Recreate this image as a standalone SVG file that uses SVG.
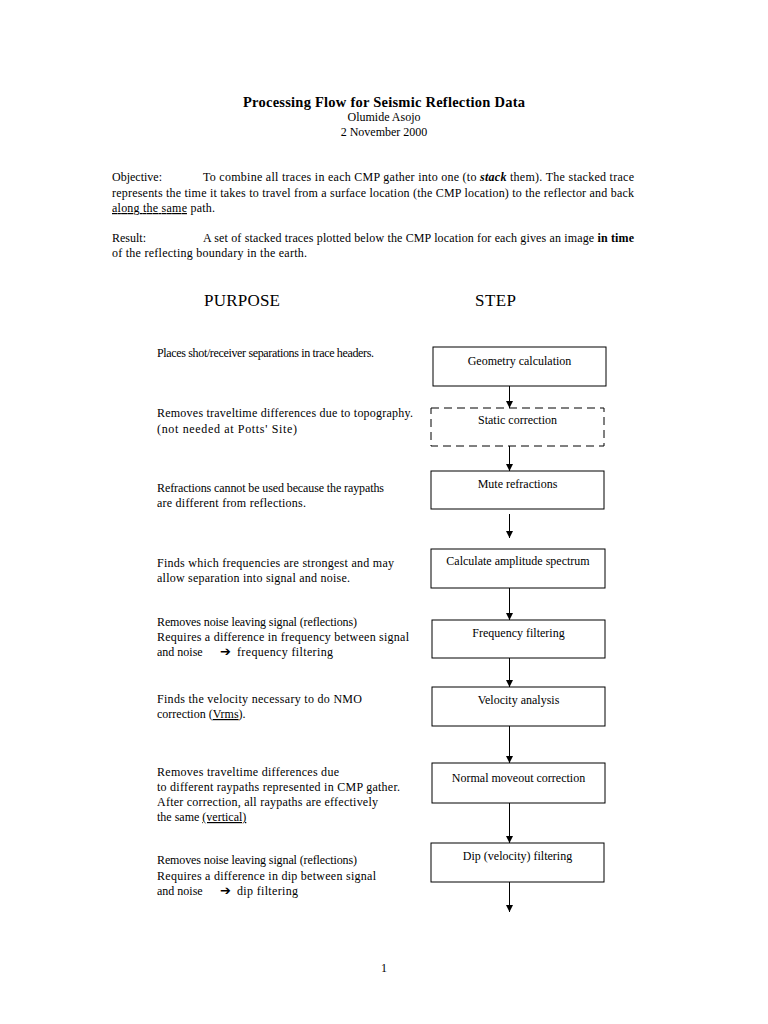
<svg xmlns="http://www.w3.org/2000/svg" width="768" height="1024" viewBox="0 0 768 1024">
<style>
text{font-family:"Liberation Serif","Times New Roman",serif;fill:#000}
.t{font-size:12px}
.b{font-size:12px}
.h{font-size:17px}
.title{font-size:14.5px;font-weight:bold}
.box{fill:#fff;stroke:#000;stroke-width:1}
.dash{stroke-dasharray:8,5}
.c{text-anchor:middle}
.u{text-decoration:underline}
.arr{font-family:"DejaVu Sans",sans-serif;font-size:13px}
#connectors line{stroke:#000;stroke-width:1}
</style>
<defs>
<marker id="ah" markerWidth="8" markerHeight="8" refX="7" refY="4" orient="auto" markerUnits="userSpaceOnUse">
<path d="M0,0.5 L7,4 L0,7.5 Z" fill="#000"/>
</marker>
</defs>
<rect width="768" height="1024" fill="#fff"/>

<g id="header">
<text class="title c" x="384" y="107" textLength="282">Processing Flow for Seismic Reflection Data</text>
<text class="t c" x="384" y="121">Olumide Asojo</text>
<text class="t c" x="384" y="136">2 November 2000</text>
<text class="t" x="112" y="181">Objective:</text>
<text class="t" x="203" y="181" textLength="431">To combine all traces in each CMP gather into one (to <tspan font-weight="bold" font-style="italic">stack</tspan> them). The stacked trace</text>
<text class="t" x="112" y="197" textLength="522">represents the time it takes to travel from a surface location (the CMP location) to the reflector and back</text>
<text class="t" x="112" y="212" textLength="103"><tspan class="u">along the same</tspan> path.</text>
<text class="t" x="112" y="242">Result:</text>
<text class="t" x="203" y="242" textLength="431">A set of stacked traces plotted below the CMP location for each gives an image <tspan font-weight="bold">in time</tspan></text>
<text class="t" x="112" y="257" textLength="195">of the reflecting boundary in the earth.</text>
<text class="h" x="204" y="306" textLength="76">PURPOSE</text>
<text class="h" x="475" y="306" textLength="41">STEP</text>
</g>

<g id="purposes">
<text class="t" x="157" y="357" textLength="217">Places shot/receiver separations in trace headers.</text>
<text class="t" x="157" y="417" textLength="256">Removes traveltime differences due to topography.</text>
<text class="t" x="157" y="433" textLength="140">(not needed at Potts' Site)</text>
<text class="t" x="157" y="492" textLength="227">Refractions cannot be used because the raypaths</text>
<text class="t" x="157" y="507" textLength="149">are different from reflections.</text>
<text class="t" x="157" y="567" textLength="237">Finds which frequencies are strongest and may</text>
<text class="t" x="157" y="582" textLength="193">allow separation into signal and noise.</text>
<text class="t" x="157" y="626" textLength="200">Removes noise leaving signal (reflections)</text>
<text class="t" x="157" y="641" textLength="252">Requires a difference in frequency between signal</text>
<text class="t" x="157" y="656">and noise</text>
<text class="arr" x="220" y="656">➔</text>
<text class="t" x="237" y="656" textLength="96">frequency filtering</text>
<text class="t" x="157" y="703" textLength="205">Finds the velocity necessary to do NMO</text>
<text class="t" x="157" y="718">correction (<tspan class="u">Vrms</tspan>).</text>
<text class="t" x="157" y="776" textLength="182">Removes traveltime differences due</text>
<text class="t" x="157" y="791" textLength="243">to different raypaths represented in CMP gather.</text>
<text class="t" x="157" y="806" textLength="221">After correction, all raypaths are effectively</text>
<text class="t" x="157" y="821">the same <tspan class="u">(vertical)</tspan></text>
<text class="t" x="157" y="864" textLength="200">Removes noise leaving signal (reflections)</text>
<text class="t" x="157" y="880" textLength="219">Requires a difference in dip between signal</text>
<text class="t" x="157" y="895">and noise</text>
<text class="arr" x="220" y="895">➔</text>
<text class="t" x="237" y="895" textLength="61">dip filtering</text>
</g>

<g id="n-geometry">
<rect class="box" x="433" y="347" width="173" height="39"/>
<text class="b c" x="519.5" y="365">Geometry calculation</text>
</g>
<g id="n-static">
<rect class="box dash" x="431" y="408" width="173" height="38"/>
<text class="b c" x="517.5" y="424">Static correction</text>
</g>
<g id="n-mute">
<rect class="box" x="431" y="471" width="173" height="38"/>
<text class="b c" x="517.5" y="488">Mute refractions</text>
</g>
<g id="n-amplitude">
<rect class="box" x="431" y="549" width="174" height="39"/>
<text class="b c" x="518" y="565">Calculate amplitude spectrum</text>
</g>
<g id="n-frequency">
<rect class="box" x="432" y="620" width="173" height="38"/>
<text class="b c" x="518.5" y="637">Frequency filtering</text>
</g>
<g id="n-velocity">
<rect class="box" x="432" y="687" width="173" height="39"/>
<text class="b c" x="518.5" y="704">Velocity analysis</text>
</g>
<g id="n-nmo">
<rect class="box" x="432" y="763" width="173" height="40"/>
<text class="b c" x="518.5" y="782">Normal moveout correction</text>
</g>
<g id="n-dip">
<rect class="box" x="431" y="843" width="173" height="39"/>
<text class="b c" x="517.5" y="860">Dip (velocity) filtering</text>
</g>

<g id="connectors">
<line x1="509.5" y1="386" x2="509.5" y2="408" marker-end="url(#ah)"/>
<line x1="509.5" y1="446" x2="509.5" y2="471" marker-end="url(#ah)"/>
<line x1="509.5" y1="514" x2="509.5" y2="538" marker-end="url(#ah)"/>
<line x1="509.5" y1="588" x2="509.5" y2="620" marker-end="url(#ah)"/>
<line x1="509.5" y1="658" x2="509.5" y2="687" marker-end="url(#ah)"/>
<line x1="509.5" y1="726" x2="509.5" y2="763" marker-end="url(#ah)"/>
<line x1="509.5" y1="803" x2="509.5" y2="843" marker-end="url(#ah)"/>
<line x1="509.5" y1="882" x2="509.5" y2="912" marker-end="url(#ah)"/>
</g>

<text class="t c" x="384" y="972">1</text>
</svg>
